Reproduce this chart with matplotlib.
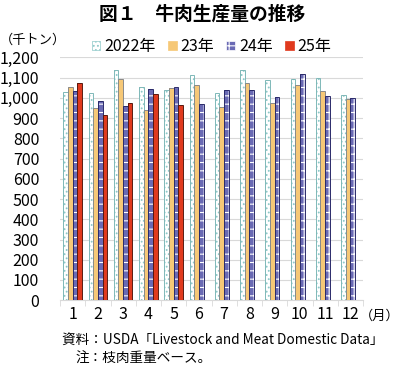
import matplotlib
matplotlib.use("Agg")
import matplotlib.pyplot as plt
import numpy as np

plt.rcParams['font.family'] = ['Noto Sans CJK JP', 'DejaVu Sans']
plt.rcParams['hatch.linewidth'] = 0.8

# ---------------------------------------------------------------------------
# Data (thousand tons)
# ---------------------------------------------------------------------------
months = [1, 2, 3, 4, 5, 6, 7, 8, 9, 10, 11, 12]
labels = ["2022年", "23年", "24年", "25年"]
y2022 = [1028, 1023, 1137, 1056, 1038, 1114, 1023, 1137, 1086, 1092, 1099, 1013]
y2023 = [1056, 949, 1092, 939, 1048, 1063, 955, 1074, 977, 1064, 1036, 995]
y2024 = [1035, 985, 959, 1044, 1056, 970, 1038, 1040, 1002, 1120, 1008, 1000]
y2025 = [1076, 916, 977, 1018, 964]
yticks = list(range(0, 1201, 100))

# styles: (face, hatch, hatch colour, outline)
styles = [
    ("white", "....", "#8ec9c9", "#7fb8b8"),
    ("#f6c877", None, "#f6c877", "#8a8a8a"),
    ("#6a6ab4", "++", "white", "#2a2a6a"),
    ("#e03a1e", None, "#e03a1e", "#5a1a10"),
]

fig = plt.figure(figsize=(4.0, 3.67), dpi=100)
ax = fig.add_axes([0.15, 0.182, 0.7575, 0.6615])

x = np.arange(len(months))
w = 0.185
series = [y2022, y2023, y2024, y2025]
handles = []
for i, (vals, (fc, hatch, hc, ec)) in enumerate(zip(series, styles)):
    xs = x[:len(vals)] + (i - 1.5) * w
    ax.bar(xs, vals, w, color=fc, hatch=hatch, edgecolor=hc, linewidth=0, zorder=3)
    ax.bar(xs, vals, w, color="none", edgecolor=ec, linewidth=0.7, zorder=4)
    h = plt.Rectangle((0, 0), 1, 1, facecolor=fc, hatch=hatch, edgecolor=hc, linewidth=0.5)
    handles.append(h)

ax.set_xlim(-0.5, len(months) - 0.5)
ax.set_ylim(0, 1200)
ax.set_yticks(yticks)
ax.set_yticklabels([f"{v:,}" for v in yticks], fontsize=11.5)
ax.yaxis.grid(True, color="#d9d9d9", lw=0.8, zorder=0)
ax.tick_params(axis="y", length=0, pad=15)

ax.set_xticks(x)
ax.set_xticklabels([str(m) for m in months], fontsize=11.5)
ax.set_xticks(np.arange(-0.5, len(months)), minor=True)
ax.tick_params(axis="x", which="major", length=0, pad=4)
ax.tick_params(axis="x", which="minor", length=4, color="#d9d9d9")

for s in ["top", "right", "left"]:
    ax.spines[s].set_visible(False)
ax.spines["bottom"].set_color("#d9d9d9")

leg = ax.legend(handles, labels, ncol=4, loc="center", bbox_to_anchor=(0.5, 1.045),
                frameon=False, fontsize=11.5, handlelength=0.55, handleheight=0.55,
                handletextpad=0.25, columnspacing=0.75)

fig.text(0.505, 0.962, "図１　牛肉生産量の推移", ha="center", va="center",
         fontsize=13.5, fontweight="bold")
fig.text(0.0, 0.89, "（千トン）", ha="left", va="center", fontsize=9.5)
fig.text(1.0, 0.139, "（月）", ha="right", va="center", fontsize=9.5)
fig.text(0.155, 0.073, "資料：USDA「Livestock and Meat Domestic Data」",
         ha="left", va="center", fontsize=9.8)
fig.text(0.19, 0.022, "注：枝肉重量ベース。", ha="left", va="center", fontsize=9.8)

fig.savefig("out.png", dpi=100)
